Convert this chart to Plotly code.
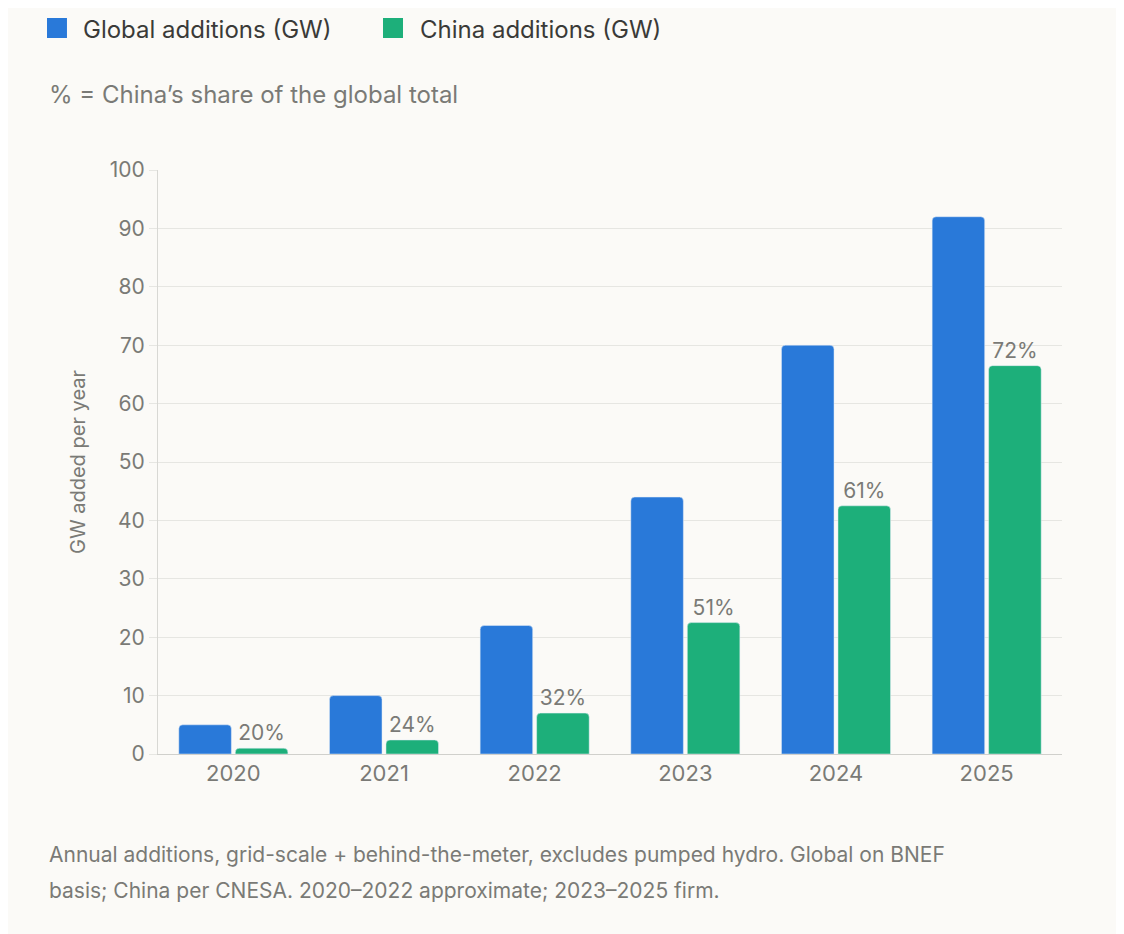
import plotly.graph_objects as go

years = ["2020", "2021", "2022", "2023", "2024", "2025"]
global_gw = [5, 10, 22, 44, 70, 92]
china_gw = [1, 2.4, 7, 22.5, 42.5, 66.5]
china_share = ["20%", "24%", "32%", "51%", "61%", "72%"]

BLUE = "#2979d9"
GREEN = "#1daf7a"
GRAY = "#7a7a76"
BG = "#fbfaf7"
FONT = "Inter"

fig = go.Figure()
fig.add_bar(x=years, y=global_gw, name="Global additions (GW)", marker_color=BLUE)
fig.add_bar(x=years, y=china_gw, name="China additions (GW)", marker_color=GREEN,
            text=china_share, textposition="outside", cliponaxis=False,
            textfont=dict(color=GRAY, size=21, family=FONT))

def sq(x0, x1, color):
    return dict(type="rect", xref="paper", yref="paper", x0=x0, x1=x1, y0=1.226, y1=1.2603,
                fillcolor=color, line=dict(width=0), layer="above")

fig.update_layout(
    width=1124, height=934,
    paper_bgcolor=BG, plot_bgcolor=BG,
    margin=dict(l=150, r=70, t=162, b=188, autoexpand=False),
    barmode="group", bargap=0.25, bargroupgap=0.07, barcornerradius=4,
    font=dict(family=FONT, color=GRAY, size=20),
    showlegend=False,
    xaxis=dict(showgrid=False, showline=True, linecolor="#d0d0cc", linewidth=1,
               tickfont=dict(size=22, color=GRAY), ticks="", automargin=False),
    yaxis=dict(range=[0, 100], dtick=10, gridcolor="#e6e6e2", showline=True,
               linecolor="#d8d8d4", ticks="outside", ticklen=8, tickcolor="#e6e6e2",
               tickfont=dict(size=21, color=GRAY), zeroline=False, automargin=False,
               title=dict(text="GW added per year", font=dict(size=20, color=GRAY), standoff=18)),
    shapes=[sq(-0.1228, -0.1007, BLUE), sq(0.2489, 0.2710, GREEN)],
    annotations=[
        dict(text="Global additions (GW)", xref="paper", yref="paper", x=-0.0852, y=1.2414,
             xanchor="left", yanchor="middle", showarrow=False, font=dict(size=24, color="#3a3a38")),
        dict(text="China additions (GW)", xref="paper", yref="paper", x=0.2876, y=1.2414,
             xanchor="left", yanchor="middle", showarrow=False, font=dict(size=24, color="#3a3a38")),
        dict(text="% = China’s share of the global total", xref="paper", yref="paper",
             x=-0.1228, y=1.130, xanchor="left", yanchor="middle", showarrow=False,
             font=dict(size=24, color=GRAY)),
        dict(text="Annual additions, grid-scale + behind-the-meter, excludes pumped hydro. Global on BNEF",
             xref="paper", yref="paper", x=-0.1228, y=-0.1729, xanchor="left", yanchor="middle",
             showarrow=False, font=dict(size=21, color=GRAY)),
        dict(text="basis; China per CNESA. 2020–2022 approximate; 2023–2025 firm.",
             xref="paper", yref="paper", x=-0.1228, y=-0.2329, xanchor="left", yanchor="middle",
             showarrow=False, font=dict(size=21, color=GRAY)),
    ],
)
fig.write_html("out.html")
